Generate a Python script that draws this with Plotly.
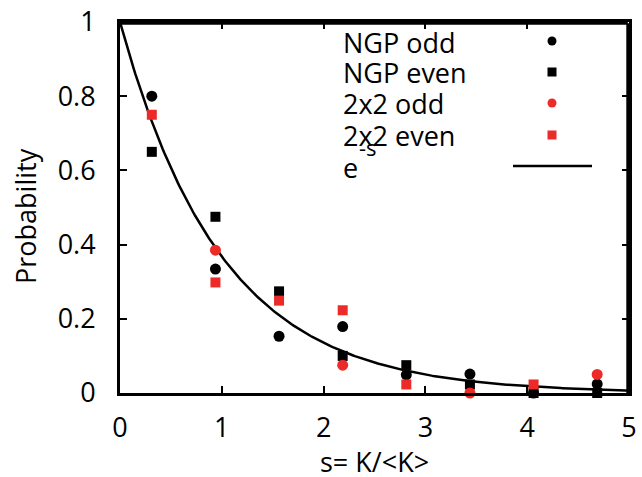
import numpy as np
import plotly.graph_objects as go

# ---- data ----
s_vals = [0.3125, 0.9375, 1.5625, 2.1875, 2.8125, 3.4375, 4.0625, 4.6875]
ngp_odd = [0.80, 0.334, 0.153, 0.179, 0.049, 0.051, 0.0, 0.024]
ngp_even = [0.65, 0.475, 0.274, 0.100, 0.075, 0.023, 0.0, 0.0]
x2_odd = [None, 0.385, None, 0.075, None, 0.0, None, 0.050]
x2_even = [0.75, 0.298, 0.249, 0.223, 0.023, None, 0.023, None]
x_ticks = [0, 1, 2, 3, 4, 5]
y_ticks = [0, 0.2, 0.4, 0.6, 0.8, 1]
y_tick_text = ["0", "0.2", "0.4", "0.6", "0.8", "1"]

RED = "#ec2a27"
FONT = "Open Sans"
FS = 27

s_curve = np.linspace(0, 5, 300)
exp_curve = np.exp(-s_curve)

fig = go.Figure()
fig.add_trace(go.Scatter(x=s_curve, y=exp_curve, mode="lines",
                         line=dict(color="black", width=2.5), name="e-s"))
fig.add_trace(go.Scatter(x=s_vals, y=ngp_odd, mode="markers", name="NGP odd",
                         marker=dict(symbol="circle", size=11, color="black"), cliponaxis=False))
fig.add_trace(go.Scatter(x=s_vals, y=ngp_even, mode="markers", name="NGP even",
                         marker=dict(symbol="square", size=10, color="black"), cliponaxis=False))
fig.add_trace(go.Scatter(x=s_vals, y=x2_odd, mode="markers", name="2x2 odd",
                         marker=dict(symbol="circle", size=11, color=RED), cliponaxis=False))
fig.add_trace(go.Scatter(x=s_vals, y=x2_even, mode="markers", name="2x2 even",
                         marker=dict(symbol="square", size=10, color=RED), cliponaxis=False))

# plot area in reference-pixel coordinates: x 120..629, y 22..393
W, H = 509, 371
def px(x):
    return (x - 120) / W
def py(y):
    return (393 - y) / H

# ---- gnuplot-style legend: text left, sample right ----
legend_text = ["NGP odd", "NGP even", "2x2 odd", "2x2 even"]
legend_rows = [42, 72, 104, 135]
for txt, yy in zip(legend_text, legend_rows):
    fig.add_annotation(x=px(341), y=py(yy), xref="paper", yref="paper", text=txt,
                       showarrow=False, xanchor="left", yanchor="middle",
                       font=dict(family=FONT, size=FS, color="black"))
fig.add_annotation(x=px(341), y=py(167), xref="paper", yref="paper", text="e",
                   showarrow=False, xanchor="left", yanchor="middle",
                   font=dict(family=FONT, size=FS, color="black"))
fig.add_annotation(x=px(357), y=py(147), xref="paper", yref="paper", text="-s",
                   showarrow=False, xanchor="left", yanchor="middle",
                   font=dict(family=FONT, size=22, color="black"))

mx = px(552)
r = 4.5 / W
ry = 4.5 / H
marker_rows = [41, 72, 103, 135]
shapes = [
    dict(type="circle", xref="paper", yref="paper", x0=mx - r, x1=mx + r,
         y0=py(marker_rows[0]) - ry, y1=py(marker_rows[0]) + ry, fillcolor="black", line_width=0),
    dict(type="rect", xref="paper", yref="paper", x0=mx - r, x1=mx + r,
         y0=py(marker_rows[1]) - ry, y1=py(marker_rows[1]) + ry, fillcolor="black", line_width=0),
    dict(type="circle", xref="paper", yref="paper", x0=mx - r, x1=mx + r,
         y0=py(marker_rows[2]) - ry, y1=py(marker_rows[2]) + ry, fillcolor=RED, line_width=0),
    dict(type="rect", xref="paper", yref="paper", x0=mx - r, x1=mx + r,
         y0=py(marker_rows[3]) - ry, y1=py(marker_rows[3]) + ry, fillcolor=RED, line_width=0),
    dict(type="line", xref="paper", yref="paper", x0=px(513), x1=px(592),
         y0=py(166), y1=py(166), line=dict(color="black", width=2.5)),
    # top and right edges of the frame, drawn just inside the plot area
    dict(type="line", xref="paper", yref="paper", x0=0, x1=1 - 1.2 / W,
         y0=1 - 1.2 / H, y1=1 - 1.2 / H, line=dict(color="black", width=3), layer="above"),
    dict(type="line", xref="paper", yref="paper", x0=1 - 1.2 / W, x1=1 - 1.2 / W,
         y0=0, y1=1 - 1.2 / H, line=dict(color="black", width=3), layer="above"),
]

# axis titles
fig.add_annotation(x=0.5, y=py(461), xref="paper", yref="paper", text="s= K/&lt;K&gt;",
                   showarrow=False, xanchor="center", yanchor="middle",
                   font=dict(family=FONT, size=FS, color="black"))
fig.add_annotation(x=px(25), y=py(216), xref="paper", yref="paper", text="Probability",
                   showarrow=False, xanchor="center", yanchor="middle", textangle=-90,
                   font=dict(family=FONT, size=FS, color="black"))

fig.update_layout(
    width=642, height=477,
    margin=dict(l=120, r=13, t=22, b=84, autoexpand=False),
    paper_bgcolor="white", plot_bgcolor="white",
    showlegend=False,
    shapes=shapes,
    font=dict(family=FONT, size=FS, color="black"),
)
fig.update_xaxes(range=[0, 5], tickvals=x_ticks, ticks="inside", ticklen=7, tickwidth=1.5,
                 tickcolor="black", showline=True, linecolor="black", linewidth=3,
                 mirror="allticks", showgrid=False, zeroline=False, ticklabelstandoff=9,
                 automargin=False, tickfont=dict(size=FS))
fig.update_yaxes(range=[0, 1], tickvals=y_ticks, ticktext=y_tick_text, ticks="inside",
                 ticklen=7, tickwidth=1.5, tickcolor="black",
                 showline=True, linecolor="black", linewidth=3, mirror="allticks",
                 showgrid=False, zeroline=False, ticklabelstandoff=16, automargin=False,
                 tickfont=dict(size=FS))

# remove the default 8px page margin so the figure sits at the window's corner
fig.write_html("out.html", config={"displayModeBar": False},
               post_script="document.body.style.margin='0';")
